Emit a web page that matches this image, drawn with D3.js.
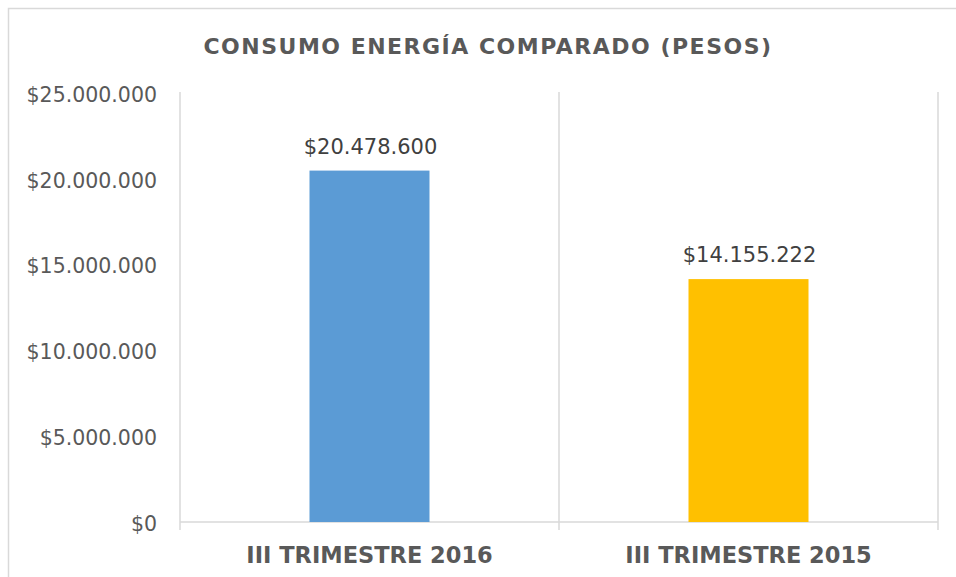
<!DOCTYPE html>
<html>
<head>
<meta charset="utf-8">
<script src="https://cdn.jsdelivr.net/npm/d3@7"></script>
<style>
  body { margin: 0; background: #fff; }
  svg text { font-family: "DejaVu Sans", Verdana, sans-serif; fill: #595959; }
</style>
</head>
<body>
<svg id="chart"></svg>
<script>
const categories = ['III TRIMESTRE 2016', 'III TRIMESTRE 2015'];
const values = [20478600, 14155222];
const colors = ['#5b9bd5', '#ffc000'];
const yTicks = [0, 5000000, 10000000, 15000000, 20000000, 25000000];
const title = 'CONSUMO ENERGÍA COMPARADO (PESOS)';

const W = 956, H = 577;
const mLeft = 180, mRight = 938, mTop = 93, mBottom = 522;

const svg = d3.select('#chart').attr('width', W).attr('height', H);

// chart border
svg.append('path')
    .attr('d', `M8.5,${H} V8.5 H${W}`)
    .attr('fill', 'none')
    .attr('stroke', '#d9d9d9')
    .attr('stroke-width', 1.5);

const fmt = (v) => '$' + d3.format(',')(v).replace(/,/g, '.');

const x = d3.scaleBand().domain(categories).range([mLeft, mRight]);
const y = d3.scaleLinear().domain([0, 25000000]).range([mBottom, mTop]);

// vertical separators
const seps = [mLeft].concat(categories.map((c) => x(c) + x.bandwidth()));
svg.append('g').selectAll('line')
    .data(seps)
    .join('line')
    .attr('x1', (d) => d).attr('x2', (d) => d)
    .attr('y1', mTop - 1).attr('y2', mBottom + 8)
    .attr('stroke', '#d9d9d9')
    .attr('stroke-width', 1.5);

// baseline
svg.append('line')
    .attr('x1', mLeft).attr('x2', mRight)
    .attr('y1', y(0)).attr('y2', y(0))
    .attr('stroke', '#d9d9d9')
    .attr('stroke-width', 1.5);

// y axis labels
const yAxis = d3.axisLeft(y).tickValues(yTicks).tickSize(0).tickPadding(23)
    .tickFormat((d) => d === 0 ? '$0' : fmt(d));
const ya = svg.append('g').attr('transform', `translate(${mLeft},0)`).call(yAxis);
ya.select('.domain').remove();
ya.selectAll('text').style('font-size', '20.5px').attr('dy', '0.4em');

// bars
const bw = 120;
svg.append('g').selectAll('rect')
    .data(values)
    .join('rect')
    .attr('x', (d, i) => x(categories[i]) + x.bandwidth() / 2 - bw / 2)
    .attr('y', (d) => y(d))
    .attr('width', bw)
    .attr('height', (d) => y(0) - y(d))
    .attr('fill', (d, i) => colors[i]);

// data labels
svg.append('g').selectAll('text')
    .data(values)
    .join('text')
    .attr('x', (d, i) => x(categories[i]) + x.bandwidth() / 2 + 1)
    .attr('y', (d) => y(d) - 17)
    .attr('text-anchor', 'middle')
    .style('font-size', '21px')
    .style('fill', '#404040')
    .text((d) => fmt(d));

// category labels
svg.append('g').selectAll('text')
    .data(categories)
    .join('text')
    .attr('x', (d) => x(d) + x.bandwidth() / 2)
    .attr('y', 563)
    .attr('text-anchor', 'middle')
    .style('font-size', '22.5px')
    .style('font-weight', 'bold')
    .text((d) => d);

// title
svg.append('text')
    .attr('x', 488)
    .attr('y', 54)
    .attr('text-anchor', 'middle')
    .style('font-size', '22px')
    .style('font-weight', 'bold')
    .style('letter-spacing', '1.5px')
    .text(title);
</script>
</body>
</html>
